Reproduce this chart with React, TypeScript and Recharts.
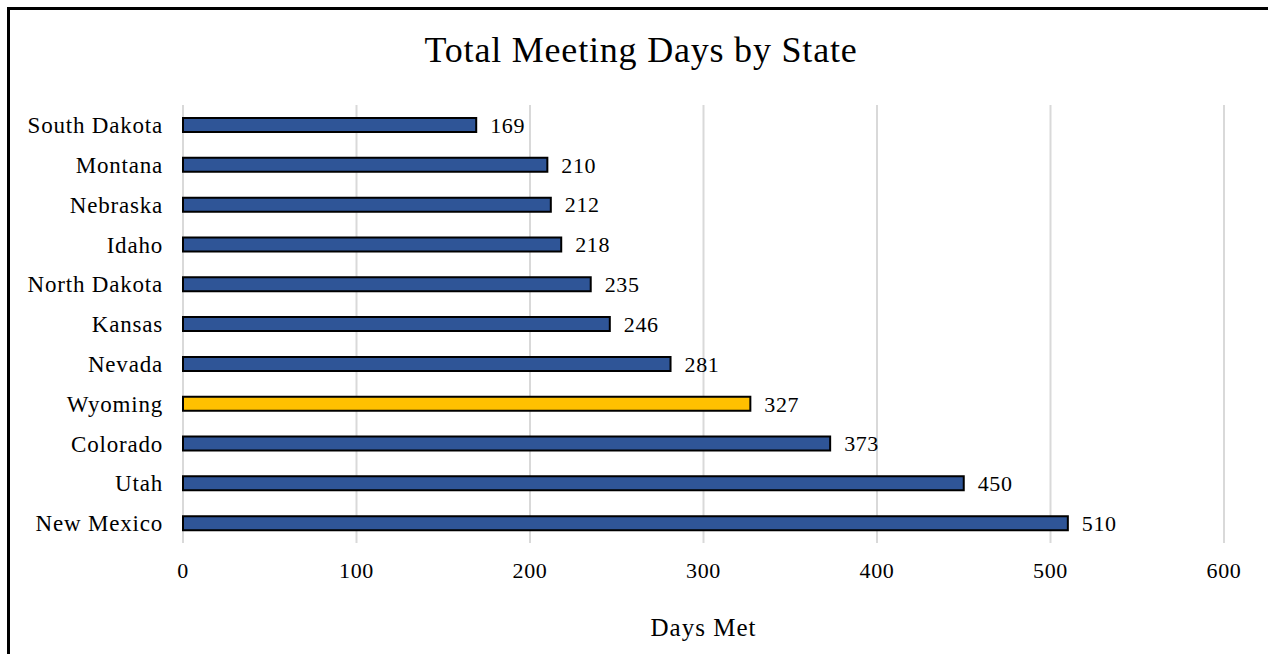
import { BarChart, Bar, XAxis, YAxis, CartesianGrid, LabelList, Cell, Label } from 'recharts'

const states = [
  'South Dakota',
  'Montana',
  'Nebraska',
  'Idaho',
  'North Dakota',
  'Kansas',
  'Nevada',
  'Wyoming',
  'Colorado',
  'Utah',
  'New Mexico',
]

const daysMet = [169, 210, 212, 218, 235, 246, 281, 327, 373, 450, 510]

const xTicks = [0, 100, 200, 300, 400, 500, 600]

const highlightState = 'Wyoming'

const BLUE = '#2F5597'
const GOLD = '#FFC000'
const FONT = '"Liberation Serif", "Times New Roman", serif'

const rows = states.map((state, i) => ({ state, days: daysMet[i] }))

export default function App() {
  return (
    <div
      style={{
        position: 'fixed',
        left: 0,
        top: 0,
        width: 1268,
        height: 654,
        overflow: 'hidden',
        background: '#fff',
        fontFamily: FONT,
      }}
    >
      {/* frame runs off the right and bottom edges */}
      <div
        style={{
          position: 'absolute',
          left: 7,
          top: 7,
          width: 1320,
          height: 720,
          border: '3px solid #000',
          boxSizing: 'border-box',
        }}
      />
      <div
        style={{
          position: 'absolute',
          left: 0,
          top: 32,
          width: 1282,
          textAlign: 'center',
          fontSize: 36,
          letterSpacing: 0.8,
          lineHeight: '36px',
          color: '#000',
        }}
      >
        Total Meeting Days by State
      </div>
      <div style={{ position: 'absolute', left: 8, top: 8 }}>
        <BarChart
          width={1260}
          height={646}
          data={rows}
          layout="vertical"
          margin={{ top: 97, right: 44, bottom: 11, left: 0 }}
          barCategoryGap={0}
        >
          <CartesianGrid horizontal={false} stroke="#D9D9D9" strokeWidth={2} />
          <XAxis
            type="number"
            domain={[0, 600]}
            ticks={xTicks}
            axisLine={false}
            tickLine={false}
            tickMargin={13}
            height={100}
            tick={{ fill: '#000', fontSize: 22, fontFamily: FONT, letterSpacing: 0.6 }}
          >
            <Label
              value="Days Met"
              position="insideBottom"
              offset={7}
              style={{ fill: '#000', fontSize: 25, fontFamily: FONT, letterSpacing: 1 }}
            />
          </XAxis>
          <YAxis
            type="category"
            dataKey="state"
            width={175}
            axisLine={false}
            tickLine={false}
            tickMargin={14}
            interval={0}
            tick={{ fill: '#000', fontSize: 23, fontFamily: FONT, letterSpacing: 0.8 }}
          />
          <Bar dataKey="days" barSize={14} stroke="#000" strokeWidth={2} isAnimationActive={false}>
            {rows.map((r) => (
              <Cell key={r.state} fill={r.state === highlightState ? GOLD : BLUE} />
            ))}
            <LabelList
              dataKey="days"
              position="right"
              offset={14}
              style={{ fill: '#000', fontSize: 22, fontFamily: FONT, letterSpacing: 0.6 }}
            />
          </Bar>
        </BarChart>
      </div>
    </div>
  )
}
